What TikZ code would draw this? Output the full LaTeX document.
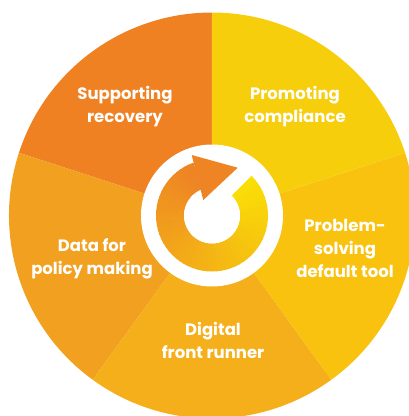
\documentclass[tikz,border=0pt]{standalone}
\usepackage{fontspec}
\setmainfont{Poppins}
\definecolor{recovery}{HTML}{EF8123}
\definecolor{compliance}{HTML}{F6CE0C}
\definecolor{problem}{HTML}{F9C20F}
\definecolor{digital}{HTML}{F5AF1A}
\definecolor{policy}{HTML}{F2A01F}
\definecolor{ringyellow}{HTML}{FADF06}
\definecolor{ringorange}{HTML}{EE8424}
\tikzset{
  sector text/.style={text=white, font=\bfseries\fontsize{16.5}{23}\selectfont, align=center, inner sep=0pt},
}
\begin{document}
\begin{tikzpicture}[x=1pt,y=1pt]

    % Define parameters
    \def\R{203}   % wheel radius
    \def\rw{71}   % white ring
    \def\ro{56}   % arrow ring, outside
    \def\ri{28}   % arrow ring, inside

    \useasboundingbox (-212,-200.5) rectangle (197,215.5);

    % sectors
    \fill[recovery]   (0,0) -- (90:\R) arc (90:162:\R) -- cycle;
    \fill[policy]     (0,0) -- (162:\R) arc (162:234:\R) -- cycle;
    \fill[digital]    (0,0) -- (234:\R) arc (234:306:\R) -- cycle;
    \fill[problem]    (0,0) -- (306:\R) arc (306:378:\R) -- cycle;
    \fill[compliance] (0,0) -- (18:\R) arc (18:90:\R) -- cycle;

    % white ring
    \fill[white] (0,0) circle (\rw);

    % arrow ring, yellow to orange clockwise
    \foreach \i in {0,...,58}{
        \pgfmathsetmacro\s{45-5*\i}
        \pgfmathsetmacro\e{\s-5.6}
        \pgfmathtruncatemacro\p{100-\i*100/58}
        \colorlet{wedge}{ringyellow!\p!ringorange}
        \fill[wedge] (\s:\ri) -- (\s:\ro) arc (\s:\e:\ro) -- (\e:\ri) arc (\e:\s:\ri) -- cycle;
    }
    \fill[white] (0,0) circle (\ri);

    % arrow head
    \fill[ringorange] (-20.3,60.5) -- (25.7,47.8) -- (-8.7,15.5) -- cycle;

    % labels
    \node[sector text] (recover) at (-87,108.5) {Supporting\\recovery};
    \node[sector text] (comply) at (83,108.5) {Promoting\\compliance};
    \node[sector text] (solve) at (133,-32.5) {Problem-\\solving\\default tool};
    \node[sector text] (runner) at (1,-124.5) {Digital\\front runner};
    \node[sector text] (data) at (-120,-43.5) {Data for\\policy making};

\end{tikzpicture}
\end{document}
